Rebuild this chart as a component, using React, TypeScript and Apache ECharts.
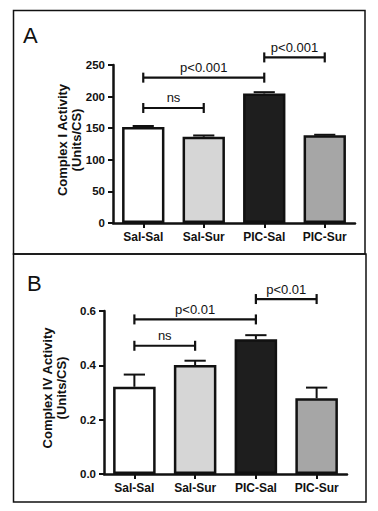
import React, { useEffect, useRef } from "react";
import * as echarts from "echarts";

const categories = ["Sal-Sal", "Sal-Sur", "PIC-Sal", "PIC-Sur"];
const barColors = ["#ffffff", "#d6d6d6", "#1e1e1e", "#a6a6a6"];

const complexI = [152, 136.5, 205, 139];
const complexIErr = [1.5, 2, 2, 0.6];
const complexIV = [0.321, 0.401, 0.496, 0.279];
const complexIVErr = [0.045, 0.016, 0.015, 0.039];

// [startCategory, endCategory, yValue]
const bracketsA = [[0, 2, 230], [0, 1, 182], [2, 3, 262]];
const bracketsALabels = ["p<0.001", "ns", "p<0.001"];
const bracketsB = [[0, 2, 0.569], [0, 1, 0.472], [2, 3, 0.644]];
const bracketsBLabels = ["p<0.01", "ns", "p<0.01"];

const FONT = "Liberation Sans, Arial, sans-serif";

function errorSeries(idx: number, vals: number[], errs: number[]) {
  return {
    type: "custom",
    xAxisIndex: idx,
    yAxisIndex: idx,
    z: 3,
    clip: false,
    encode: { x: 0, y: [1, 2] },
    data: vals.map((v, i) => [i, v, v + errs[i]]),
    renderItem: (params: any, api: any) => {
      const c = api.value(0);
      const p1 = api.coord([c, api.value(1)]);
      const p2 = api.coord([c, api.value(2)]);
      const half = api.size([1, 0])[0] * 0.175;
      const st = { stroke: "#111", lineWidth: 2 };
      return {
        type: "group",
        children: [
          { type: "line", shape: { x1: p1[0], y1: p1[1], x2: p2[0], y2: p2[1] }, style: st },
          { type: "line", shape: { x1: p2[0] - half, y1: p2[1], x2: p2[0] + half, y2: p2[1] }, style: st },
        ],
      };
    },
  };
}

function bracketSeries(idx: number, data: number[][], labels: string[], gap: number) {
  return {
    type: "custom",
    xAxisIndex: idx,
    yAxisIndex: idx,
    z: 4,
    clip: false,
    encode: { x: [0, 1], y: 2 },
    data: data,
    renderItem: (params: any, api: any) => {
      const a = api.coord([api.value(0), api.value(2)]);
      const b = api.coord([api.value(1), api.value(2)]);
      const st = { stroke: "#111", lineWidth: 2.2 };
      const h = 5;
      return {
        type: "group",
        children: [
          { type: "line", shape: { x1: a[0], y1: a[1], x2: b[0], y2: b[1] }, style: st },
          { type: "line", shape: { x1: a[0], y1: a[1] - h, x2: a[0], y2: a[1] + h }, style: st },
          { type: "line", shape: { x1: b[0], y1: b[1] - h, x2: b[0], y2: b[1] + h }, style: st },
          {
            type: "text",
            style: {
              text: labels[params.dataIndex],
              x: (a[0] + b[0]) / 2,
              y: a[1] - gap,
              align: "center",
              verticalAlign: "middle",
              textAlign: "center",
              textVerticalAlign: "middle",
              font: "13px " + FONT,
              fill: "#111",
            },
          },
        ],
      };
    },
  };
}

function rotText(text: string, x: number, y: number) {
  return {
    type: "text",
    x,
    y,
    rotation: Math.PI / 2,
    style: {
      text,
      align: "center",
      verticalAlign: "middle",
      textAlign: "center",
      textVerticalAlign: "middle",
      font: "bold 13px " + FONT,
      fill: "#111",
    },
  };
}

export default function App() {
  const ref = useRef<HTMLDivElement>(null);
  useEffect(() => {
    if (!ref.current) return;
    const chart = echarts.init(ref.current, undefined, { renderer: "svg" });
    const axisLine = { show: true, lineStyle: { color: "#111", width: 2.5 } };
    const axisTick = { show: true, inside: false, length: 5, lineStyle: { color: "#111", width: 2 } };
    const xAxisCommon = {
      type: "category",
      data: categories,
      axisLine,
      axisTick: { ...axisTick, alignWithLabel: true },
      axisLabel: { color: "#111", fontWeight: "bold", fontSize: 12, fontFamily: FONT, margin: 8 },
      splitLine: { show: false },
    };
    const yCommon = {
      type: "value",
      min: 0,
      axisLine,
      axisTick,
      splitLine: { show: false },
    };
    chart.setOption({
      animation: false,
      backgroundColor: "#ffffff",
      grid: [
        { left: 113, right: 23, top: 65, bottom: 288 },
        { left: 104, right: 31, top: 311, bottom: 37 },
      ],
      xAxis: [
        { ...xAxisCommon, gridIndex: 0 },
        { ...xAxisCommon, gridIndex: 1 },
      ],
      yAxis: [
        {
          ...yCommon,
          gridIndex: 0,
          max: 250,
          interval: 50,
          axisLabel: { color: "#111", fontWeight: "bold", fontSize: 11.5, fontFamily: FONT, margin: 8 },
        },
        {
          ...yCommon,
          gridIndex: 1,
          max: 0.6,
          interval: 0.2,
          axisLabel: {
            color: "#111",
            fontWeight: "bold",
            fontSize: 11.5,
            fontFamily: FONT,
            margin: 8,
            formatter: (v: number) => v.toFixed(1),
          },
        },
      ],
      series: [
        {
          type: "bar",
          xAxisIndex: 0,
          yAxisIndex: 0,
          barWidth: "70%",
          data: complexI.map((v, i) => ({ value: v, itemStyle: { color: barColors[i] } })),
          itemStyle: { borderColor: "#111", borderWidth: 2.5 },
        },
        errorSeries(0, complexI, complexIErr),
        bracketSeries(0, bracketsA, bracketsALabels, 10),
        {
          type: "bar",
          xAxisIndex: 1,
          yAxisIndex: 1,
          barWidth: "70%",
          data: complexIV.map((v, i) => ({ value: v, itemStyle: { color: barColors[i] } })),
          itemStyle: { borderColor: "#111", borderWidth: 2.5 },
        },
        errorSeries(1, complexIV, complexIVErr),
        bracketSeries(1, bracketsB, bracketsBLabels, 10),
      ],
      graphic: [
        { type: "rect", shape: { x: 13.5, y: 10.5, width: 351.5, height: 243.5 }, style: { fill: "none", stroke: "#111", lineWidth: 1.5 } },
        { type: "rect", shape: { x: 13.5, y: 254, width: 352.5, height: 248 }, style: { fill: "none", stroke: "#111", lineWidth: 1.5 } },
        { type: "text", left: 23, top: 24, style: { text: "A", font: "22px " + FONT, fill: "#111" } },
        { type: "text", left: 27, top: 272, style: { text: "B", font: "22px " + FONT, fill: "#111" } },
        rotText("Complex I Activity", 62, 140),
        rotText("(Units/CS)", 76, 140),
        rotText("Complex IV Activity", 47, 388),
        rotText("(Units/CS)", 61, 388),
      ],
    });
    return () => chart.dispose();
  }, []);
  return <div ref={ref} style={{ width: 378, height: 511, position: "absolute", left: 0, top: 0 }} />;
}
